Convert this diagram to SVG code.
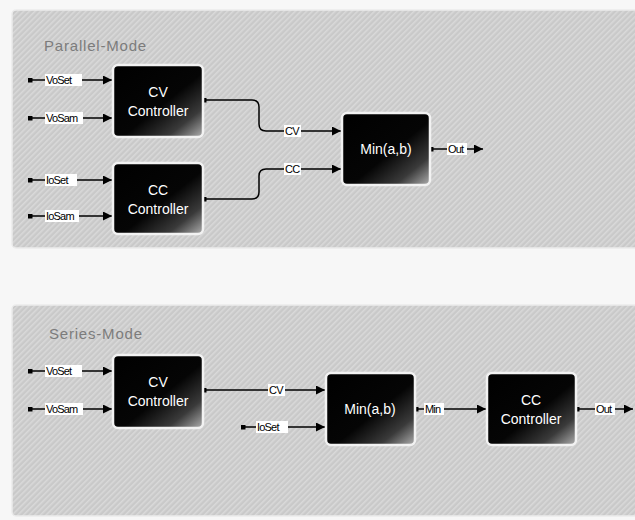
<svg xmlns="http://www.w3.org/2000/svg" width="635" height="520" viewBox="0 0 635 520">
<defs>
<pattern id="hatch" width="4" height="4" patternUnits="userSpaceOnUse" patternTransform="rotate(45)">
<rect width="4" height="4" fill="#c9c9c9"/>
<rect width="1.6" height="4" fill="#d9d9d9"/>
</pattern>
<linearGradient id="blk" x1="0" y1="0" x2="1" y2="1">
<stop offset="0" stop-color="#000"/>
<stop offset="0.55" stop-color="#050505"/>
<stop offset="0.8" stop-color="#3a3a3a"/>
<stop offset="1" stop-color="#b0b0b0"/>
</linearGradient>
<marker id="arr" viewBox="0 0 10 10" refX="10" refY="5" markerWidth="9" markerHeight="9" markerUnits="userSpaceOnUse" orient="auto">
<path d="M0,0 L10,5 L0,10 z" fill="#000"/>
</marker>
<marker id="dot" viewBox="0 0 5 5" refX="2.5" refY="2.5" markerWidth="5" markerHeight="5" markerUnits="userSpaceOnUse">
<rect width="5" height="5" fill="#000"/>
</marker>
</defs>
<style>
.panel{fill:url(#hatch);stroke:#ececec;stroke-width:1.5}
.title{font-family:"Liberation Sans",Arial,sans-serif;font-size:15px;fill:#7c7c7c;letter-spacing:0.8px}
.box{fill:url(#blk);stroke:#f2f2f2;stroke-width:2.5}
.bt{font-family:"Liberation Sans",Arial,sans-serif;font-size:14px;fill:#fff;text-anchor:middle}
.w{fill:none;stroke:#000;stroke-width:1.5}
.lb{fill:#fff}
.lt{font-family:"Liberation Sans",Arial,sans-serif;font-size:11px;fill:#000;letter-spacing:-0.8px}
</style>
<rect width="635" height="520" fill="#f7f7f7"/>
<rect class="panel" x="12" y="10" width="630" height="238" rx="4"/>
<rect class="panel" x="12" y="305" width="630" height="211" rx="4"/>
<text class="title" x="44" y="51">Parallel-Mode</text>
<text class="title" x="49" y="339">Series-Mode</text>

<g id="connectors">
<path class="w" d="M30,80 H112" marker-start="url(#dot)" marker-end="url(#arr)"/>
<path class="w" d="M30,118 H112" marker-start="url(#dot)" marker-end="url(#arr)"/>
<path class="w" d="M30,180 H112" marker-start="url(#dot)" marker-end="url(#arr)"/>
<path class="w" d="M30,216 H112" marker-start="url(#dot)" marker-end="url(#arr)"/>
<path class="w" d="M204,100 H252 Q259,100 259,107 V124 Q259,131 266,131 H341" marker-start="url(#dot)" marker-end="url(#arr)"/>
<path class="w" d="M204,199 H252 Q259,199 259,192 V176 Q259,169 266,169 H341" marker-start="url(#dot)" marker-end="url(#arr)"/>
<path class="w" d="M431,149 H483" marker-start="url(#dot)" marker-end="url(#arr)"/>
<path class="w" d="M30,371 H112" marker-start="url(#dot)" marker-end="url(#arr)"/>
<path class="w" d="M30,409 H112" marker-start="url(#dot)" marker-end="url(#arr)"/>
<path class="w" d="M204,390 H325" marker-start="url(#dot)" marker-end="url(#arr)"/>
<path class="w" d="M243,427 H325" marker-start="url(#dot)" marker-end="url(#arr)"/>
<path class="w" d="M416,409 H486" marker-start="url(#dot)" marker-end="url(#arr)"/>
<path class="w" d="M577,409 H633" marker-start="url(#dot)" marker-end="url(#arr)"/>
<g>
<rect class="lb" x="45" y="74" width="37" height="12"/><text class="lt" x="46" y="84">VoSet</text>
<rect class="lb" x="45" y="112" width="38" height="12"/><text class="lt" x="46" y="122">VoSam</text>
<rect class="lb" x="45" y="174" width="32" height="12"/><text class="lt" x="46" y="184">IoSet</text>
<rect class="lb" x="45" y="210" width="34" height="12"/><text class="lt" x="46" y="220">IoSam</text>
<rect class="lb" x="284" y="125" width="17" height="12"/><text class="lt" x="285" y="135">CV</text>
<rect class="lb" x="284" y="163" width="17" height="12"/><text class="lt" x="285" y="173">CC</text>
<rect class="lb" x="447" y="143" width="20" height="12"/><text class="lt" x="448" y="153">Out</text>
<rect class="lb" x="45" y="365" width="37" height="12"/><text class="lt" x="46" y="375">VoSet</text>
<rect class="lb" x="45" y="403" width="38" height="12"/><text class="lt" x="46" y="413">VoSam</text>
<rect class="lb" x="268" y="384" width="17" height="12"/><text class="lt" x="269" y="394">CV</text>
<rect class="lb" x="256" y="421" width="32" height="12"/><text class="lt" x="257" y="431">IoSet</text>
<rect class="lb" x="424" y="403" width="20" height="12"/><text class="lt" x="425" y="413">Min</text>
<rect class="lb" x="595" y="403" width="20" height="12"/><text class="lt" x="596" y="413">Out</text>
</g>
</g>

<g id="cv1"><rect class="box" x="113" y="65" width="90" height="72" rx="5"/><text class="bt" x="158" y="97">CV</text><text class="bt" x="158" y="116">Controller</text></g>
<g id="cc1"><rect class="box" x="113" y="163" width="90" height="71" rx="5"/><text class="bt" x="158" y="195">CC</text><text class="bt" x="158" y="214">Controller</text></g>
<g id="min1"><rect class="box" x="342" y="113" width="88" height="72" rx="5"/><text class="bt" x="386" y="154">Min(a,b)</text></g>
<g id="cv2"><rect class="box" x="113" y="355" width="90" height="73" rx="5"/><text class="bt" x="158" y="387">CV</text><text class="bt" x="158" y="406">Controller</text></g>
<g id="min2"><rect class="box" x="326" y="373" width="89" height="72" rx="5"/><text class="bt" x="370" y="414">Min(a,b)</text></g>
<g id="cc2"><rect class="box" x="487" y="373" width="89" height="72" rx="5"/><text class="bt" x="531" y="405">CC</text><text class="bt" x="531" y="424">Controller</text></g>
</svg>
